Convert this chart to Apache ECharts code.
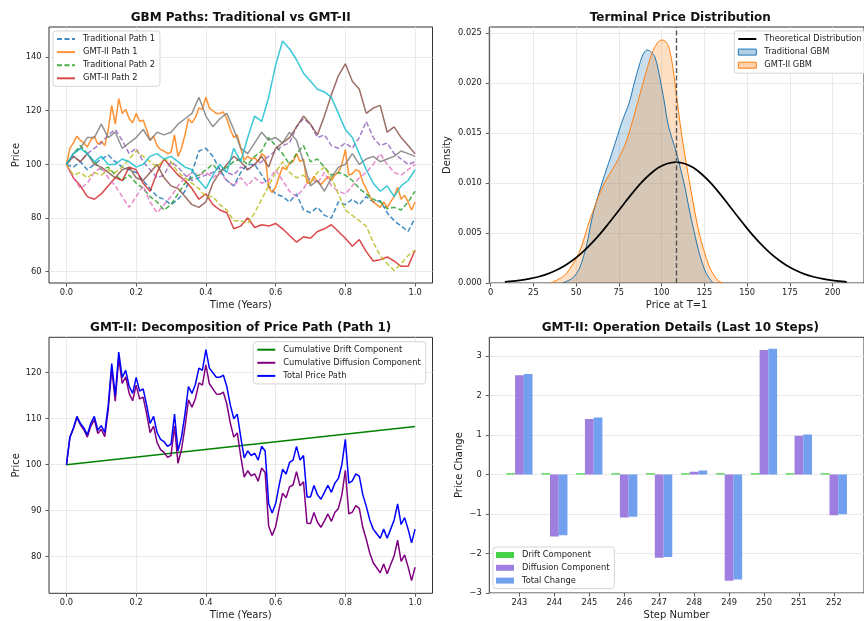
<!DOCTYPE html>
<html>
<head>
<meta charset="utf-8">
<script src="https://cdn.jsdelivr.net/npm/echarts@6/dist/echarts.min.js"></script>
<style>
  html, body { margin: 0; padding: 0; background: #fff; }
  #chart { width: 864px; height: 621px; }
</style>
</head>
<body>
<div id="chart"></div>
<script>
// ---------- Simulated price paths (GBM vs GMT-II) ----------
// sampling times in years
const fineTimes = Array.from({ length: 101 }, (_, i) => i / 100);   // GMT-II Path 1
const coarseTimes = Array.from({ length: 51 }, (_, i) => i / 50);   // remaining paths

const gmtPath1 = [
  100, 106, 108, 110.5, 109, 108, 106.5, 109, 110.5, 107.5,
  108.5, 107, 113, 122, 115, 124.5, 119, 120.5, 117, 115.5,
  119, 116, 116.5, 113, 109, 110.5, 107, 105.5, 105, 104,
  104.5, 111, 103, 106, 111, 117, 115.5, 117.5, 121, 120.5,
  125, 121, 120, 119, 119, 119.5, 117, 113, 110, 111,
  106, 101.5, 103, 102, 102.5, 101, 104, 103, 91.5, 89.5,
  91.5, 95.5, 99, 98, 100.5, 101, 104, 101, 102, 93,
  93, 95.5, 93.5, 92.5, 94, 95.5, 94, 96, 97, 100,
  105.5, 96, 96.5, 98, 97.5, 93.5, 91, 88, 86, 85,
  84, 86, 84, 86, 88, 91.5, 87, 88.5, 86, 83,
  86
];
const tradPath1 = [
  100, 99, 101, 98, 100, 102, 103.5, 101, 99, 98,
  97, 94, 91, 88, 87, 85, 87, 90, 97, 105,
  106, 103, 98, 94, 92, 97, 100, 100, 96, 92,
  89, 88, 86, 89, 83, 82, 84, 81, 80, 86,
  85, 87, 85, 88, 86, 86.5, 82, 79, 77, 75,
  80
];
const tradPath2 = [
  100, 104, 107, 104, 101, 98, 99, 96, 94, 96,
  93, 91, 88, 86, 83, 85, 89, 93, 95, 96,
  98, 100, 97, 99, 101, 102, 100, 103, 105, 110,
  107, 104, 100, 104, 107, 101, 102, 99, 96, 97,
  96, 94, 91, 89, 87, 86, 83.5, 84, 83, 86,
  90
];
const gmtPath2 = [
  100, 95, 92, 88, 87, 89, 92, 95, 94, 99,
  98, 93, 90, 97, 102, 99, 96, 94, 91, 87,
  89, 85, 83, 82, 76, 77, 80, 76.5, 77.5, 77,
  78, 76, 73.5, 71, 73, 72.5, 75, 76, 77.5, 75,
  72.5, 69.5, 72, 67.5, 64, 64.5, 65.5, 64, 62, 62,
  68
];
const tradPath3 = [
  100, 103, 101, 104, 106, 108, 111, 113, 109, 104,
  106, 101, 98, 95, 96, 101, 99, 96, 94, 95,
  96, 97, 99, 97, 96, 99, 98, 100, 101, 103,
  105, 107, 108, 114, 117, 115, 110, 111, 107, 106,
  108, 106, 110, 116, 110, 107, 108, 104, 102, 100,
  101
];
const gmtPath3 = [
  100, 103, 101, 104, 100, 99, 97, 95, 98, 99,
  95, 94, 97, 100, 95, 92, 91, 88, 85, 84,
  86, 93, 97, 100, 103, 101, 98, 100, 103, 99,
  106, 108, 110, 114, 118, 115, 111, 118, 126, 133,
  137.5, 131, 128, 119, 121, 122, 112, 114, 110, 107,
  104
];
const tradPath4 = [
  100, 95, 91, 93, 97, 99, 95, 92, 88, 84,
  88, 92, 86, 82, 85, 88, 92, 95, 97, 96,
  97, 95, 97, 94, 92, 95, 92, 95, 93, 94,
  98, 94, 90, 88, 91, 95, 93, 97, 92, 90,
  89, 92, 95, 97, 100, 104, 100, 97, 96, 98,
  100
];
const gmtPath4 = [
  100, 104, 106, 110, 110, 115, 110, 112, 106, 108,
  110, 113, 109, 112, 111, 112, 115, 117, 119, 125,
  118, 114, 117, 119, 113, 106, 104, 108, 112, 109,
  110, 108, 112, 109, 101, 92, 94, 90, 95, 99,
  100, 104, 100, 102, 103, 101, 102, 103, 105, 104,
  103
];
const tradPath5 = [
  100, 96, 97, 95, 97, 96, 98, 97, 99, 102,
  105, 103, 101, 99, 102, 101, 97, 95, 93, 91,
  88, 88, 85, 83, 79, 79, 78, 82, 87, 92,
  97, 101, 97, 95, 96, 93, 97, 99, 95, 89,
  83, 81, 79, 77, 71, 66, 63, 60.5, 63, 66,
  68
];
const gmtPath5 = [
  100, 104, 106, 104, 101, 103, 100, 100, 102, 101,
  99, 100, 103, 104, 102, 103, 101, 99, 98, 94,
  91, 96, 100, 97, 106, 101, 110, 118, 116, 125,
  137, 146, 143, 139, 134, 131, 128, 127, 125, 119,
  113, 110, 104, 98, 93, 90, 92, 88, 92, 94,
  98
];

// ---------- Decomposition of GMT-II Path 1 ----------
const driftTimes = [0, 1];
const cumulativeDrift = [100, 108.33];
const cumulativeDiffusion = [
  100, 105.9, 107.8, 110.2, 108.7, 107.6, 106.0, 108.4, 109.8, 106.8,
  107.7, 106.1, 112.0, 120.9, 113.8, 123.2, 117.7, 119.1, 115.5, 113.9,
  117.3, 114.3, 114.7, 111.1, 107.0, 108.4, 104.8, 103.3, 102.7, 101.6,
  102.0, 108.4, 100.3, 103.3, 108.2, 114.1, 112.5, 114.4, 117.8, 117.3,
  121.7, 117.6, 116.5, 115.4, 115.3, 115.8, 113.2, 109.1, 106.0, 106.9,
  101.8, 97.3, 98.7, 97.6, 98.0, 96.4, 99.3, 98.3, 86.7, 84.6,
  86.5, 90.4, 93.8, 92.8, 95.2, 95.6, 98.5, 95.4, 96.3, 87.3,
  87.2, 89.6, 87.5, 86.4, 87.8, 89.3, 87.7, 89.6, 90.5, 93.4,
  98.8, 89.3, 89.7, 91.1, 90.5, 86.4, 83.8, 80.8, 78.7, 77.6,
  76.5, 78.4, 76.3, 78.3, 80.2, 83.6, 79.0, 80.4, 77.8, 74.8,
  77.7
];

// ---------- Terminal price distribution ----------
const tradKdeX = [42, 48, 52, 56, 60, 65.7, 70, 73.4, 77, 81, 84, 86.8, 89, 91.5, 94, 96.3, 99, 101.5, 104, 108.7, 113.5, 116, 119.2, 122, 125, 127, 130];
const tradKdeY = [0, 0.0005, 0.0015, 0.0037, 0.0070, 0.0103, 0.0125, 0.0143, 0.0162, 0.0180, 0.0200, 0.0217, 0.0228, 0.0233, 0.0231, 0.0225, 0.0205, 0.0182, 0.0157, 0.0130, 0.0097, 0.0075, 0.0050, 0.0030, 0.0014, 0.0007, 0];
const gmtKdeX = [35, 42.8, 48.5, 52.4, 58, 65.7, 73.4, 79, 84.8, 89.6, 94.4, 97.5, 100.1, 102, 104, 106, 107.8, 111.6, 116.4, 122, 127.8, 132.6, 136];
const gmtKdeY = [0, 0.0007, 0.0020, 0.0033, 0.0063, 0.0097, 0.0120, 0.0140, 0.0173, 0.0203, 0.0230, 0.0240, 0.0243, 0.0242, 0.0237, 0.0222, 0.0200, 0.0150, 0.0100, 0.0050, 0.0017, 0.0003, 0];
const theoryX = [
  8.3, 13, 18, 23, 28, 33, 38, 43, 48, 53, 58, 63, 68, 73, 78, 83, 88, 93, 98, 103, 108.3,
  113.7, 118.7, 123.7, 128.7, 133.7, 138.7, 143.7, 148.7, 153.7, 158.7, 163.7, 168.7, 173.7, 178.7, 183.7, 188.7, 193.7, 198.7, 203.7, 208.3
];
const theoryY = [
  0.00012, 0.00019, 0.00029, 0.00043, 0.00063, 0.00089, 0.00125, 0.00170, 0.00228, 0.00296, 0.00378,
  0.00471, 0.00574, 0.00682, 0.00793, 0.00901, 0.01001, 0.01085, 0.01152, 0.01193, 0.01209,
  0.01193, 0.01152, 0.01085, 0.01001, 0.00901, 0.00793, 0.00682, 0.00574, 0.00471, 0.00378,
  0.00296, 0.00228, 0.00170, 0.00125, 0.00089, 0.00063, 0.00043, 0.00029, 0.00019, 0.00012
];
const expectedTerminalPrice = 108.33;

// ---------- Last 10 operation steps ----------
const stepNumbers = [243, 244, 245, 246, 247, 248, 249, 250, 251, 252];
const driftChange = [0.027, 0.027, 0.027, 0.027, 0.027, 0.027, 0.027, 0.027, 0.027, 0.027];
const diffusionChange = [2.51, -1.57, 1.40, -1.09, -2.11, 0.07, -2.69, 3.15, 0.98, -1.03];
const totalChange = [2.54, -1.54, 1.44, -1.07, -2.09, 0.10, -2.66, 3.18, 1.01, -1.01];

// ---------- Tick values ----------
const timeTicks = [0, 0.2, 0.4, 0.6, 0.8, 1.0];
const pathPriceTicks = [60, 80, 100, 120, 140];
const decompPriceTicks = [80, 90, 100, 110, 120];
const terminalPriceTicks = [0, 25, 50, 75, 100, 125, 150, 175, 200];
const densityTicks = [0, 0.005, 0.010, 0.015, 0.020, 0.025];
const changeTicks = [-3, -2, -1, 0, 1, 2, 3];

// ---------- Styling helpers ----------
const FONT = 'DejaVu Sans';
const INK = '#222';
const FRAME = '#333';
const GRIDLINE = '#e5e5e5';
const TAB10 = ['#1f77b4', '#ff7f0e', '#2ca02c', '#d62728', '#9467bd', '#8c564b', '#e377c2', '#7f7f7f', '#bcbd22', '#17becf'];

const pairs = (xs, ys) => xs.map((x, i) => [x, ys[i]]);

function makeAxis(o) {
  return {
    type: 'value',
    gridIndex: o.grid,
    min: o.min,
    max: o.max,
    name: o.name,
    nameLocation: 'middle',
    nameGap: o.nameGap,
    nameRotate: o.rotate || 0,
    nameTextStyle: { fontFamily: FONT, fontSize: 10, color: INK },
    axisLine: { show: false, onZero: false },
    axisTick: { show: true, length: 3.5, customValues: o.ticks, lineStyle: { color: FRAME, width: 0.8 } },
    axisLabel: {
      customValues: o.ticks, formatter: o.fmt, margin: o.margin,
      fontFamily: FONT, fontSize: 8.3, color: INK, hideOverlap: false
    },
    splitLine: { show: o.split !== false, lineStyle: { color: GRIDLINE, width: 0.8 } }
  };
}

// line-only legend entries: the marker glyph is hidden so only the stroke shows
const LINE_ONLY = { opacity: 0 };

function makeLegend(o) {
  return Object.assign({
    orient: 'vertical',
    padding: [3, 5, 3, 3],
    itemWidth: 18,
    itemHeight: 10,
    itemGap: 3.1,
    selectedMode: false,
    backgroundColor: 'rgba(255,255,255,0.85)',
    borderColor: '#cccccc',
    borderWidth: 0.8,
    borderRadius: 3,
    textStyle: { fontFamily: FONT, fontSize: 8.3, color: INK, lineHeight: 10, padding: [0, 0, 0, 3] }
  }, o);
}

function makeTitle(text, cx, top) {
  return {
    text, left: cx, top, textAlign: 'center', padding: 0,
    textStyle: { fontFamily: FONT, fontSize: 12, fontWeight: 'bold', color: '#111' }
  };
}

// ---------- Panel 1: all simulated paths ----------
const pathDefs = [
  { name: 'Traditional Path 1', values: tradPath1, times: coarseTimes, dashed: true },
  { name: 'GMT-II Path 1', values: gmtPath1, times: fineTimes, dashed: false },
  { name: 'Traditional Path 2', values: tradPath2, times: coarseTimes, dashed: true },
  { name: 'GMT-II Path 2', values: gmtPath2, times: coarseTimes, dashed: false },
  { name: 'Traditional Path 3', values: tradPath3, times: coarseTimes, dashed: true },
  { name: 'GMT-II Path 3', values: gmtPath3, times: coarseTimes, dashed: false },
  { name: 'Traditional Path 4', values: tradPath4, times: coarseTimes, dashed: true },
  { name: 'GMT-II Path 4', values: gmtPath4, times: coarseTimes, dashed: false },
  { name: 'Traditional Path 5', values: tradPath5, times: coarseTimes, dashed: true },
  { name: 'GMT-II Path 5', values: gmtPath5, times: coarseTimes, dashed: false }
];
const pathSeries = pathDefs.map((p, i) => ({
  type: 'line', name: p.name, xAxisIndex: 0, yAxisIndex: 0,
  data: pairs(p.times, p.values),
  symbol: 'none', showSymbol: false,
  color: TAB10[i],
  lineStyle: { color: TAB10[i], width: 1.5, opacity: 0.85, type: p.dashed ? [5, 2.5] : 'solid' }
}));

// ---------- Panel 4: grouped bars ----------
const BAR_WIDTH = 0.25;
function barRenderer(offset) {
  return function (params, api) {
    const x = api.value(0) + offset;
    const v = api.value(1);
    const a = api.coord([x - BAR_WIDTH / 2, 0]);
    const b = api.coord([x + BAR_WIDTH / 2, v]);
    return {
      type: 'rect',
      shape: { x: a[0], y: Math.min(a[1], b[1]), width: b[0] - a[0], height: Math.max(Math.abs(b[1] - a[1]), 0.8) },
      style: { fill: api.visual('color'), opacity: 0.9 }
    };
  };
}
const barDefs = [
  { name: 'Drift Component', values: driftChange, color: '#32CD32', offset: -BAR_WIDTH },
  { name: 'Diffusion Component', values: diffusionChange, color: '#9370DB', offset: 0 },
  { name: 'Total Change', values: totalChange, color: '#6495ED', offset: BAR_WIDTH }
];
const barSeries = barDefs.map(b => ({
  type: 'custom', name: b.name, xAxisIndex: 3, yAxisIndex: 3,
  data: pairs(stepNumbers, b.values),
  encode: { x: 0, y: 1 },
  itemStyle: { color: b.color, opacity: 0.9 },
  renderItem: barRenderer(b.offset),
  clip: true
}));

const option = {
  animation: false,
  backgroundColor: '#fff',
  textStyle: { fontFamily: FONT },
  title: [
    makeTitle('GBM Paths: Traditional vs GMT-II', 240.7, 11.5),
    makeTitle('Terminal Price Distribution', 680.3, 11.5),
    makeTitle('GMT-II: Decomposition of Price Path (Path 1)', 240.7, 321.8),
    makeTitle('GMT-II: Operation Details (Last 10 Steps)', 680.3, 321.8)
  ],
  grid: [
    { left: 49, top: 27, width: 383.5, height: 256 },
    { left: 489.3, top: 27, width: 382, height: 256 },
    { left: 49, top: 337.3, width: 383.5, height: 256 },
    { left: 489.3, top: 337.3, width: 382.4, height: 256 }
  ].map(g => Object.assign({ show: true, borderColor: FRAME, borderWidth: 1, backgroundColor: 'transparent', containLabel: false }, g)),
  xAxis: [
    makeAxis({ grid: 0, min: -0.05, max: 1.05, ticks: timeTicks, fmt: v => v.toFixed(1), name: 'Time (Years)', nameGap: 17, margin: 5.5 }),
    makeAxis({ grid: 1, min: -0.8, max: 218.4, ticks: terminalPriceTicks, fmt: v => String(v), name: 'Price at T=1', nameGap: 17, margin: 5.5 }),
    makeAxis({ grid: 2, min: -0.05, max: 1.05, ticks: timeTicks, fmt: v => v.toFixed(1), name: 'Time (Years)', nameGap: 16.7, margin: 5.5 }),
    makeAxis({ grid: 3, min: 242.1375, max: 252.8625, ticks: stepNumbers, fmt: v => String(v), name: 'Step Number', nameGap: 17, margin: 5.5, split: false })
  ],
  yAxis: [
    makeAxis({ grid: 0, min: 55.8, max: 151.2, ticks: pathPriceTicks, fmt: v => String(v), name: 'Price', nameGap: 26, rotate: 90, margin: 7.5 }),
    makeAxis({ grid: 1, min: 0, max: 0.0256, ticks: densityTicks, fmt: v => v.toFixed(3), name: 'Density', nameGap: 36.5, rotate: 90, margin: 7.5 }),
    makeAxis({ grid: 2, min: 72.05, max: 127.7, ticks: decompPriceTicks, fmt: v => String(v), name: 'Price', nameGap: 26, rotate: 90, margin: 7.5 }),
    makeAxis({ grid: 3, min: -3, max: 3.47, ticks: changeTicks, fmt: v => String(v).replace('-', '\u2212'), name: 'Price Change', nameGap: 24.8, rotate: 90, margin: 7.5 })
  ],
  legend: [
    makeLegend({
      left: 53, top: 31, itemStyle: LINE_ONLY,
      data: ['Traditional Path 1', 'GMT-II Path 1', 'Traditional Path 2', 'GMT-II Path 2']
    }),
    makeLegend({
      left: 734.3, top: 31, itemHeight: 6, itemGap: 3.1,
      data: [
        { name: 'Theoretical Distribution', itemStyle: LINE_ONLY },
        { name: 'Traditional GBM', icon: 'rect', itemStyle: { color: 'rgba(31,119,180,0.35)', borderColor: '#1f77b4', borderWidth: 1, opacity: 1 } },
        { name: 'GMT-II GBM', icon: 'rect', itemStyle: { color: 'rgba(255,127,14,0.35)', borderColor: '#ff7f0e', borderWidth: 1, opacity: 1 } }
      ]
    }),
    makeLegend({
      left: 253.3, top: 341.7, itemStyle: LINE_ONLY,
      data: ['Cumulative Drift Component', 'Cumulative Diffusion Component', 'Total Price Path']
    }),
    makeLegend({
      left: 493, top: 547, itemHeight: 6, itemGap: 2.8, icon: 'rect',
      data: ['Drift Component', 'Diffusion Component', 'Total Change']
    })
  ],
  series: [
    ...pathSeries,
    {
      type: 'line', name: 'Traditional GBM', xAxisIndex: 1, yAxisIndex: 1,
      data: pairs(tradKdeX, tradKdeY), symbol: 'none', smooth: 0.3,
      color: '#1f77b4',
      lineStyle: { color: '#1f77b4', width: 1 },
      areaStyle: { color: 'rgba(31,119,180,0.35)', origin: 'start' }
    },
    {
      type: 'line', name: 'GMT-II GBM', xAxisIndex: 1, yAxisIndex: 1,
      data: pairs(gmtKdeX, gmtKdeY), symbol: 'none', smooth: 0.3,
      color: '#ff7f0e',
      lineStyle: { color: '#ff7f0e', width: 1 },
      areaStyle: { color: 'rgba(255,127,14,0.35)', origin: 'start' }
    },
    {
      type: 'line', name: 'Theoretical Distribution', xAxisIndex: 1, yAxisIndex: 1,
      data: pairs(theoryX, theoryY), symbol: 'none', smooth: 0.3,
      color: '#000',
      lineStyle: { color: '#000', width: 1.7 },
      markLine: {
        silent: true, symbol: 'none', label: { show: false },
        lineStyle: { color: '#555', type: [5, 2.5], width: 1.4 },
        data: [{ xAxis: expectedTerminalPrice }]
      }
    },
    {
      type: 'line', name: 'Cumulative Drift Component', xAxisIndex: 2, yAxisIndex: 2,
      data: pairs(driftTimes, cumulativeDrift), symbol: 'none', color: '#008000',
      lineStyle: { color: '#008000', width: 1.5 }
    },
    {
      type: 'line', name: 'Cumulative Diffusion Component', xAxisIndex: 2, yAxisIndex: 2,
      data: pairs(fineTimes, cumulativeDiffusion), symbol: 'none', color: '#800080',
      lineStyle: { color: '#800080', width: 1.5 }
    },
    {
      type: 'line', name: 'Total Price Path', xAxisIndex: 2, yAxisIndex: 2,
      data: pairs(fineTimes, gmtPath1), symbol: 'none', color: '#0000ff',
      lineStyle: { color: '#0000ff', width: 1.5 }
    },
    ...barSeries
  ]
};

const chart = echarts.init(document.getElementById('chart'), null, { renderer: 'canvas' });
chart.setOption(option);
</script>
</body>
</html>
